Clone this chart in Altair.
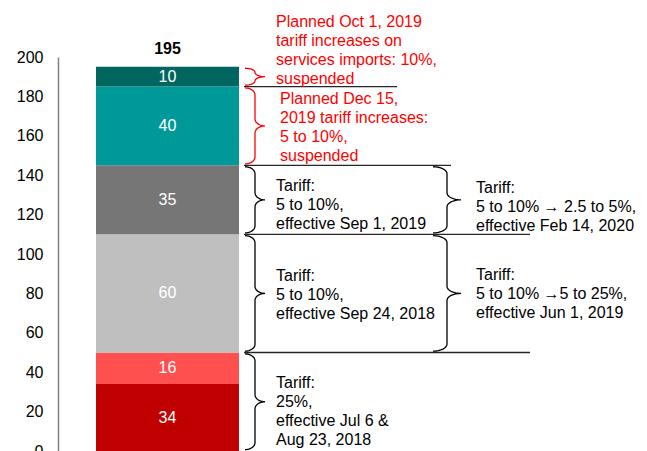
import altair as alt
import numpy as np
import pandas as pd

# ---------------- data ----------------
segment_names = ["Tranche 1", "Tranche 2", "Tranche 3", "Tranche 4A", "Tranche 4B", "Services"]
segment_values = [34, 16, 60, 35, 40, 10]
segment_colors = ["#C00000", "#FF5050", "#BFBFBF", "#767676", "#009999", "#00665F"]
y_tick_values = [0, 20, 40, 60, 80, 100, 120, 140, 160, 180, 200]

annotation_texts = [
    "Tariff:\n25%,\neffective Jul 6 &\nAug 23, 2018",
    "Tariff:\n5 to 10%,\neffective Sep 24, 2018",
    "Tariff:\n5 to 10%,\neffective Sep 1, 2019",
    "Planned Dec 15,\n2019 tariff increases:\n5 to 10%,\nsuspended",
    "Planned Oct 1, 2019\ntariff increases on\nservices imports: 10%,\nsuspended",
    "Tariff:\n5 to 10%  \u21925 to 25%,\neffective Jun 1, 2019",
    "Tariff:\n5 to 10% \u2192 2.5 to 5%,\neffective Feb 14, 2020",
]
annotation_first_seg = [0, 2, 3, 4, 5, 2, 3]
annotation_last_seg = [1, 2, 3, 4, 5, 2, 3]
annotation_column = ["left", "left", "left", "left", "left", "right", "right"]
annotation_colors = ["black", "black", "black", "#FF0000", "#FF0000", "black", "black"]
divider_after_seg = [1, 2, 3, 4]

# ---------------- layout (pixels) ----------------
W, H = 580, 394
PPU = H / 200.0
BAR_X0, BAR_X1 = 38, 181
text_dy = [-14, -12, -9, -21.5, -50, -13, -7]
text_x = [218, 218, 218, 222, 218, 418, 418]
brace_x0 = {"left": 187, "right": 375}
brace_w = {"left": 20, "right": 28}
divider_x0 = 186
divider_x1 = [472, 472, 393, 339]
FONT = "Liberation Sans"

# ---------------- derived ----------------
ends = np.cumsum(segment_values)
starts = ends - np.array(segment_values)
bars = pd.DataFrame({
    "name": segment_names,
    "value": segment_values,
    "start": starts,
    "end": ends,
    "mid": (starts + ends) / 2.0,
})
total = int(ends[-1])

yscale = alt.Scale(domain=[0, 200], nice=False, zero=False)
xscale = alt.Scale(domain=[0, W], nice=False, zero=False)
yaxis = alt.Axis(values=y_tick_values, grid=False, ticks=False, tickSize=0,
                 domainColor="#808080", domainWidth=1.5, labelOverlap=False,
                 labelFontSize=16, labelColor="black", labelFont=FONT,
                 labelPadding=15, title=None)


def Y(field):
    return alt.Y(field, scale=yscale, axis=yaxis, title=None)


bar = alt.Chart(bars).mark_bar().encode(
    y=Y("start:Q"),
    y2="end:Q",
    x=alt.value(BAR_X0),
    x2=alt.value(BAR_X1),
    color=alt.Color("name:N", scale=alt.Scale(domain=segment_names, range=segment_colors), legend=None),
)

seg_labels = alt.Chart(bars).mark_text(color="white", fontSize=16, font=FONT).encode(
    y=Y("mid:Q"),
    x=alt.value((BAR_X0 + BAR_X1) / 2),
    text="value:Q",
)

total_label = alt.Chart(pd.DataFrame({"total": [total]})).mark_text(
    fontSize=16, fontWeight="bold", font=FONT, baseline="alphabetic", dy=-13, color="black"
).encode(
    y=Y("total:Q"),
    x=alt.value((BAR_X0 + BAR_X1) / 2),
    text="total:Q",
)

layers = [bar, seg_labels, total_label]

# divider lines
for k, seg in enumerate(divider_after_seg):
    d = pd.DataFrame({"b": [float(ends[seg])]})
    layers.append(alt.Chart(d).mark_rule(color="#262626", strokeWidth=1.3).encode(
        y=Y("b:Q"),
        x=alt.value(divider_x0),
        x2=alt.value(divider_x1[k]),
    ))


def brace_points(lo, hi, x0, w, r_px=7.0):
    mid = (lo + hi) / 2.0
    half_px = (hi - lo) / 2.0 * PPU
    r = min(r_px, half_px / 2.0) / PPU
    a = w / 2.0
    xt = x0 + w
    th = np.linspace(0, np.pi / 2, 9)
    pts = []
    for t in th:
        pts.append((x0 + a * np.sin(t), hi - r + r * np.cos(t)))
    for t in th:
        pts.append((xt - a * np.cos(t), mid + r - r * np.sin(t)))
    for t in th[::-1]:
        pts.append((xt - a * np.cos(t), mid - r + r * np.sin(t)))
    for t in th[::-1]:
        pts.append((x0 + a * np.sin(t), lo + r - r * np.cos(t)))
    return pts


inset = 0.7
for k, txt in enumerate(annotation_texts):
    lo = float(starts[annotation_first_seg[k]]) + inset
    hi = float(ends[annotation_last_seg[k]]) - inset
    col = annotation_column[k]
    pts = brace_points(lo, hi, brace_x0[col], brace_w[col])
    bd = pd.DataFrame({"x": [p[0] for p in pts], "y": [p[1] for p in pts], "i": list(range(len(pts)))})
    layers.append(alt.Chart(bd).mark_line(color=annotation_colors[k], strokeWidth=1.3).encode(
        x=alt.X("x:Q", scale=xscale, axis=None),
        y=Y("y:Q"),
        order="i:Q",
    ))
    mid = (float(starts[annotation_first_seg[k]]) + float(ends[annotation_last_seg[k]])) / 2.0
    td = pd.DataFrame({"y": [mid], "t": [txt]})
    layers.append(alt.Chart(td).mark_text(
        align="left", baseline="alphabetic", lineBreak="\n", lineHeight=19,
        fontSize=16, font=FONT, color=annotation_colors[k], dy=text_dy[k]
    ).encode(
        y=Y("y:Q"),
        x=alt.value(text_x[k]),
        text="t:N",
    ))

chart = alt.layer(*layers).properties(
    width=W, height=H,
    autosize=alt.AutoSizeParams(type="none"),
    padding={"left": 50, "top": 49, "right": 0, "bottom": 0},
).configure_view(stroke=None)

chart.save("out.html", embed_options={"renderer": "svg", "actions": False})
